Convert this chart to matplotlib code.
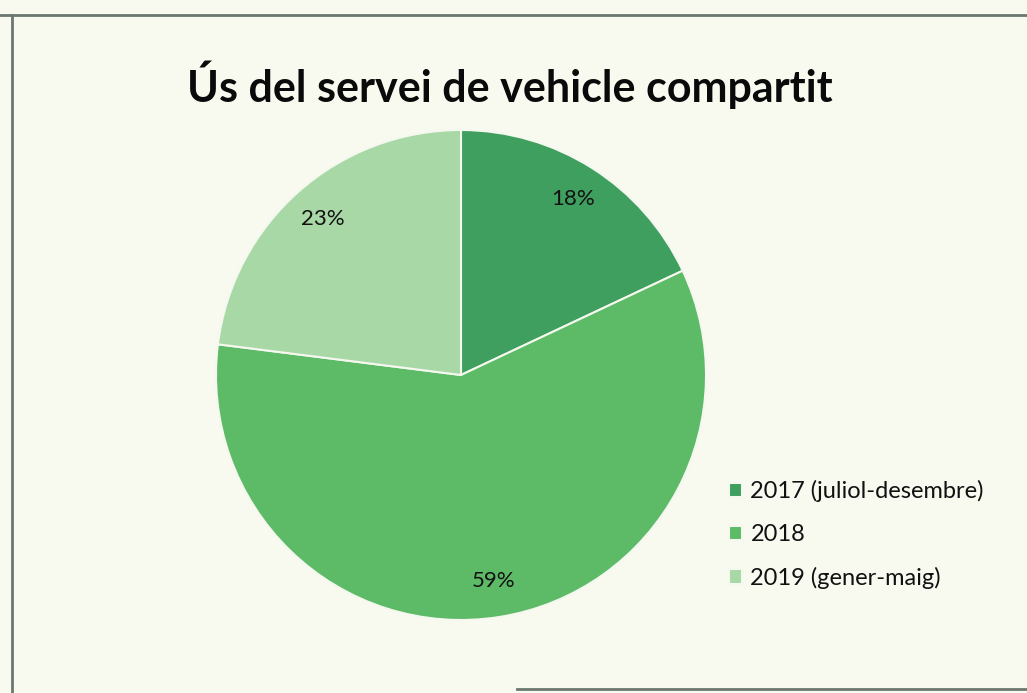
import matplotlib
matplotlib.use("Agg")
import matplotlib.pyplot as plt
from matplotlib.lines import Line2D

categories = ["2017 (juliol-desembre)", "2018", "2019 (gener-maig)"]
values = [18, 59, 23]
colors = ["#3f9f5e", "#5dba67", "#a7d8a5"]
title = "Ús del servei de vehicle compartit"

W, H = 1027, 693
bg = "#f8faf0"
plt.rcParams['font.family'] = ['Lato', 'DejaVu Sans']

fig = plt.figure(figsize=(W / 100, H / 100), dpi=100, facecolor=bg)

cx, cy, r = 461, 375, 245
ax = fig.add_axes([(cx - r) / W, (H - cy - r) / H, 2 * r / W, 2 * r / H])
ax.set_facecolor(bg)
wedges, texts, autotexts = ax.pie(
    values, colors=colors, startangle=90, counterclock=False,
    autopct='%1.0f%%', pctdistance=0.85, radius=1,
    wedgeprops=dict(edgecolor="#f4f8ee", linewidth=1.5),
    textprops=dict(fontsize=16, color="#111111"))
ax.set_xlim(-1.0, 1.0)
ax.set_ylim(-1.0, 1.0)
ax.axis('off')

fig.text(510 / W, 1 - 85 / H, title, ha='center', va='center',
         fontsize=31, fontweight='bold', color="#0a0a0a")

leg = fig.legend(wedges, categories, loc='upper left',
                 bbox_to_anchor=(708 / W, 1 - 459 / H), frameon=False,
                 fontsize=17, handlelength=0.55, handleheight=0.55,
                 handletextpad=0.35, labelspacing=0.92)
for t in leg.get_texts():
    t.set_color("#111111")

# scanned frame lines
lc = "#6b7770"
fig.add_artist(Line2D([0, 1], [1 - 15 / H, 1 - 15 / H], color=lc, lw=2.0, transform=fig.transFigure))
fig.add_artist(Line2D([12 / W, 12 / W], [1 - 15 / H, 0], color=lc, lw=2.0, transform=fig.transFigure))
fig.add_artist(Line2D([517 / W, 1], [1 - 689 / H, 1 - 689 / H], color=lc, lw=2.0, transform=fig.transFigure))

fig.savefig("out.png", dpi=100, facecolor=bg)
